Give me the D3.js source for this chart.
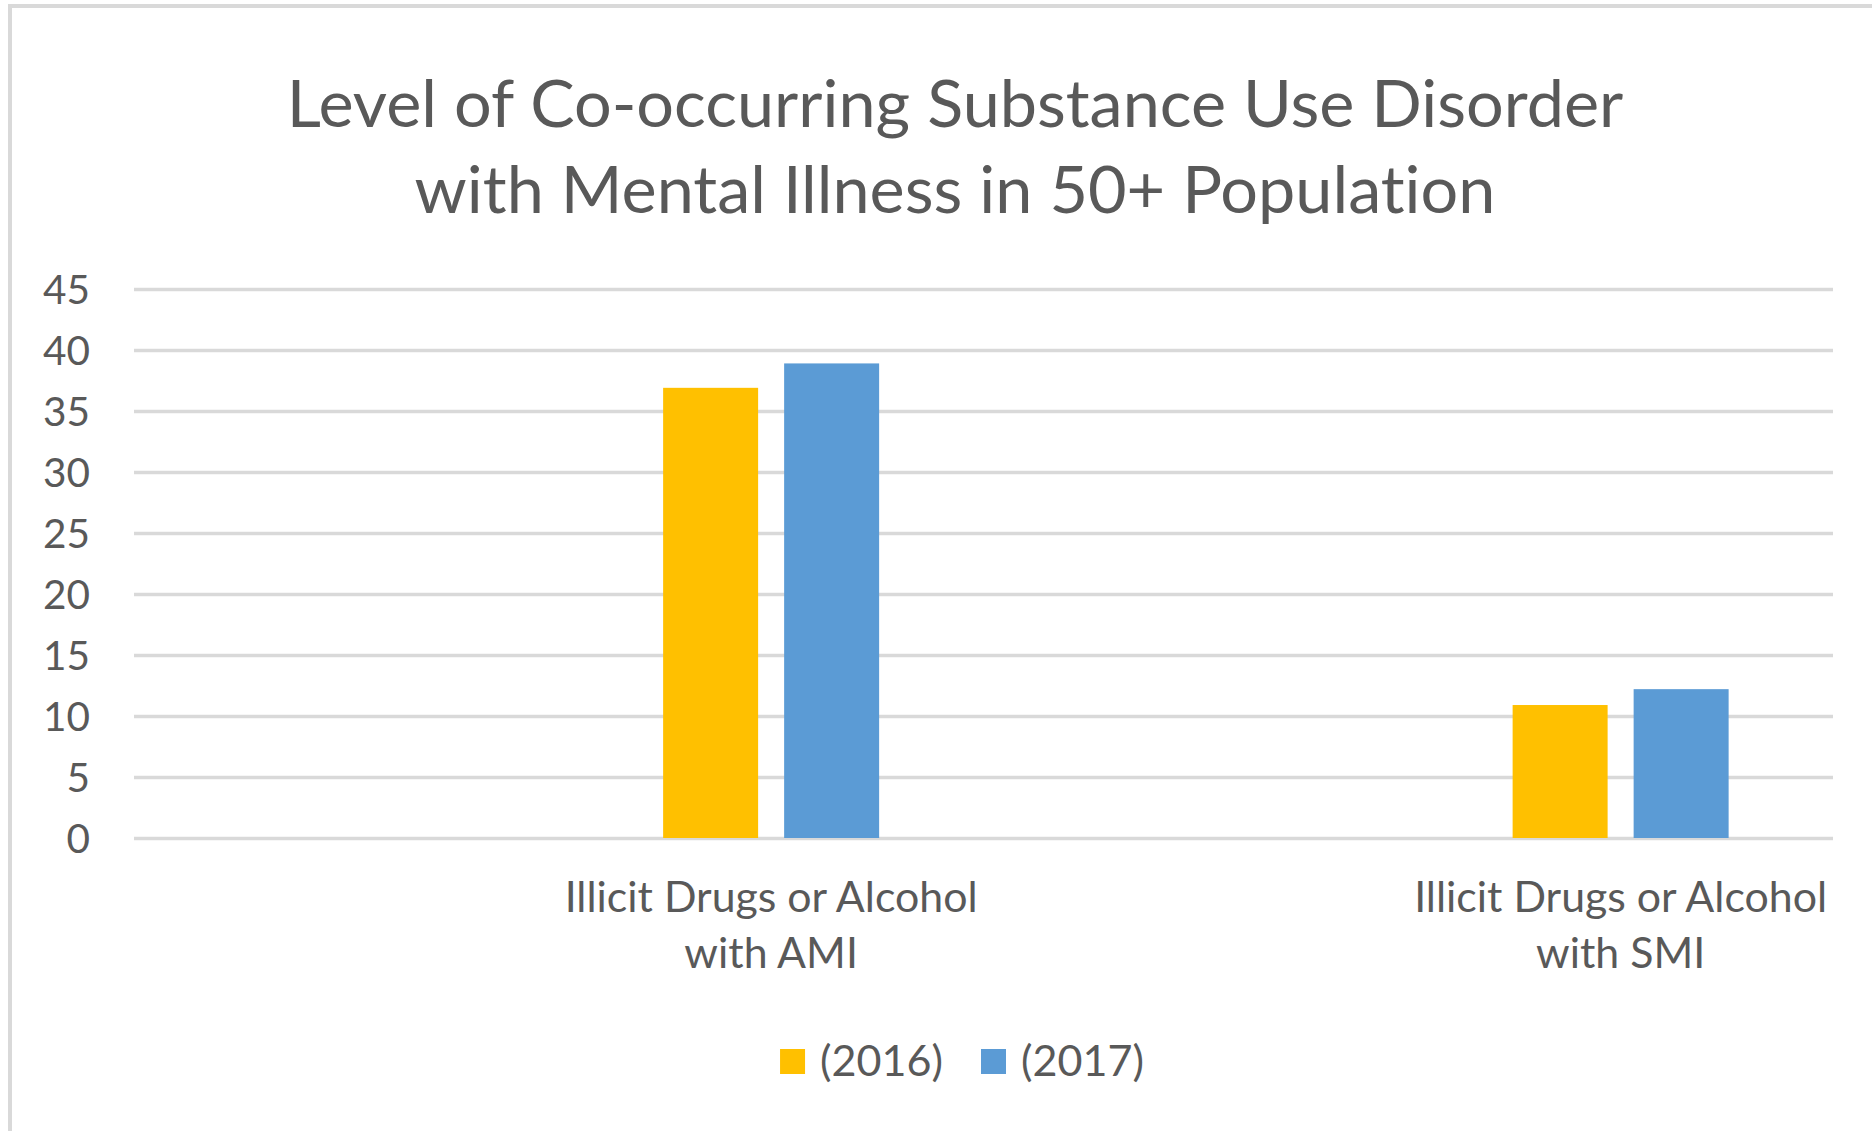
<!DOCTYPE html>
<html>
<head>
<meta charset="utf-8">
<script src="https://cdn.jsdelivr.net/npm/d3@7"></script>
<style>
  html, body { margin: 0; padding: 0; background: #ffffff; }
  svg { display: block; font-family: Lato, "Open Sans", sans-serif; font-variant-ligatures: none; font-feature-settings: "liga" 0, "clig" 0; }
</style>
</head>
<body>
<svg id="chart" width="1872" height="1131"></svg>
<script>
// ---- data ----
const titleLines = ["Level of Co-occurring Substance Use Disorder", "with Mental Illness in 50+ Population"];
const categories = ["Illicit Drugs or Alcohol with AMI", "Illicit Drugs or Alcohol with SMI"];
const categoryLines = [["Illicit Drugs or Alcohol", "with AMI"], ["Illicit Drugs or Alcohol", "with SMI"]];
const series = ["(2016)", "(2017)"];
const values2016 = [36.9, 10.9];
const values2017 = [38.9, 12.2];
const yTicks = [0, 5, 10, 15, 20, 25, 30, 35, 40, 45];
const colors = ["#FFC000", "#5B9BD5"];

// ---- layout ----
const W = 1872, H = 1131;
const plot = { left: 134, right: 1833, top: 289, bottom: 838 };
const textColor = "#595959";
const gridColor = "#d9d9d9";

const svg = d3.select("#chart");

// outer chart border (cropped on right / bottom)
svg.append("rect")
  .attr("x", 10).attr("y", 6)
  .attr("width", W + 20).attr("height", H + 20)
  .attr("fill", "#ffffff")
  .attr("stroke", gridColor).attr("stroke-width", 4);

// helper: font size that makes a sample string reach a target width
function fitSize(sample, targetWidth) {
  const t = svg.append("text").attr("font-size", 100).text(sample);
  const w = t.node().getComputedTextLength();
  t.remove();
  return 100 * targetWidth / w;
}

const titleSize = fitSize(titleLines[0], 1337);
const tickSize = fitSize("45", 47);
const catSize = fitSize(categoryLines[0][0], 413);
const legendSize = fitSize(series[0], 123);

// ---- scales ----
const y = d3.scaleLinear().domain([0, 45]).range([plot.bottom, plot.top]);
const x0 = d3.scaleBand().domain(categories).range([plot.left, plot.right]).paddingInner(0).paddingOuter(0);
const groupCenter = c => x0(c) + x0.bandwidth() * 0.75;
const x1 = d3.scaleBand().domain(series).range([-108, 108]).paddingInner(0.215).paddingOuter(0);

// ---- title ----
const titleBaselines = [127, 213];
titleLines.forEach((line, i) => {
  svg.append("text")
    .attr("x", 955).attr("y", titleBaselines[i])
    .attr("text-anchor", "middle")
    .attr("font-size", titleSize)
    .attr("fill", textColor)
    .text(line);
});

// ---- y axis with gridlines ----
const yAxis = d3.axisLeft(y)
  .tickValues(yTicks)
  .tickSize(-(plot.right - plot.left))
  .tickPadding(44)
  .tickFormat(d3.format("d"));

const yG = svg.append("g")
  .attr("transform", `translate(${plot.left},0)`)
  .call(yAxis);
yG.select(".domain").remove();
yG.selectAll(".tick line")
  .attr("stroke", gridColor)
  .attr("stroke-width", 3.4);
yG.selectAll(".tick text")
  .attr("fill", textColor)
  .attr("font-size", tickSize)
  .attr("font-family", "Lato, 'Open Sans', sans-serif")
  .attr("dy", "0.36em");

// ---- bars ----
const seriesValues = [values2016, values2017];
const barsG = svg.append("g");
categories.forEach((c, ci) => {
  series.forEach((s, si) => {
    const v = seriesValues[si][ci];
    barsG.append("rect")
      .attr("x", groupCenter(c) + x1(s))
      .attr("width", x1.bandwidth())
      .attr("y", y(v))
      .attr("height", y(0) - y(v))
      .attr("fill", colors[si]);
  });
});

// ---- category labels ----
const catBaselines = [912, 968];
categories.forEach((c, ci) => {
  categoryLines[ci].forEach((line, li) => {
    svg.append("text")
      .attr("x", groupCenter(c))
      .attr("y", catBaselines[li])
      .attr("text-anchor", "middle")
      .attr("font-size", catSize)
      .attr("fill", textColor)
      .text(line);
  });
});

// ---- legend ----
const sq = 25, sqGap = 15, itemGap = 38;
const legendG = svg.append("g");
let cursor = 0;
series.forEach((s, i) => {
  const g = legendG.append("g").attr("transform", `translate(${cursor},0)`);
  g.append("rect").attr("x", 0).attr("y", 1049).attr("width", sq).attr("height", sq).attr("fill", colors[i]);
  const t = g.append("text")
    .attr("x", sq + sqGap).attr("y", 1076)
    .attr("font-size", legendSize)
    .attr("fill", textColor)
    .text(s);
  const tw = t.node().getComputedTextLength();
  cursor += sq + sqGap + tw + itemGap;
});
const legendWidth = cursor - itemGap;
legendG.attr("transform", `translate(${962 - legendWidth / 2},0)`);
</script>
</body>
</html>
